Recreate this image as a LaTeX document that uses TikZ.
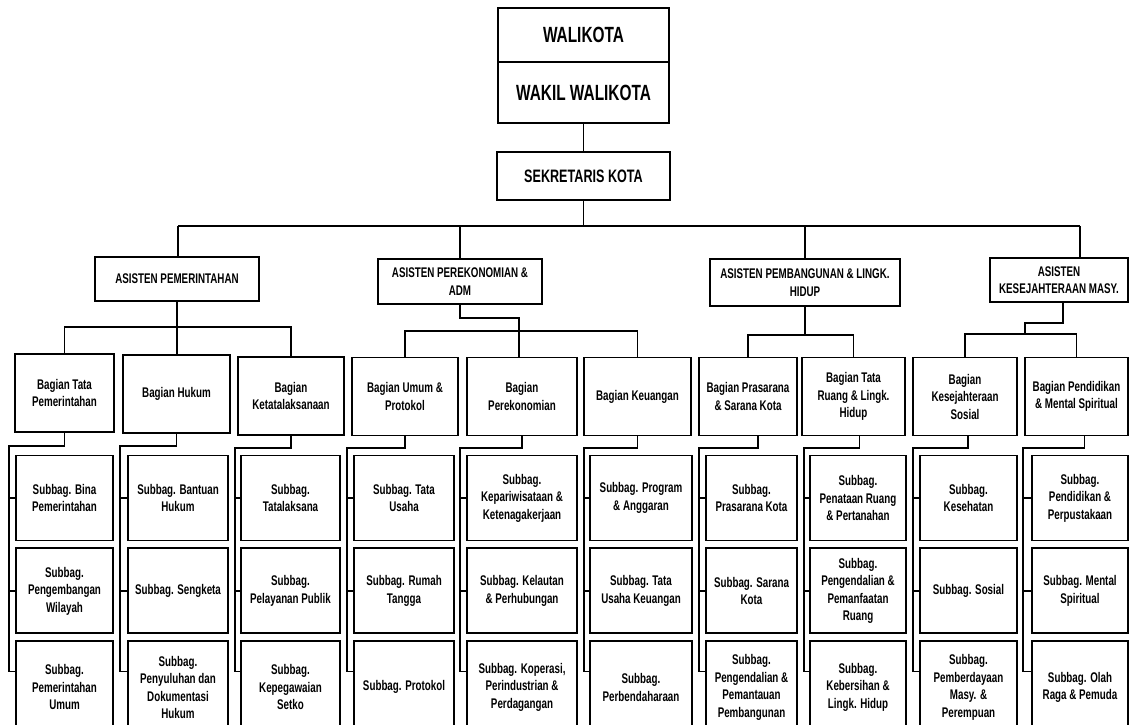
\documentclass[tikz,border=0pt]{standalone}
\usepackage{fontspec}
\setmainfont{Liberation Sans}[FakeStretch=0.7]
\usetikzlibrary{positioning}

\begin{document}
\begin{tikzpicture}[
    x=1pt, y=-1pt,
    node distance=6pt and 6pt,
    box/.style={
        draw,
        line width=1.9pt,
        align=center,
        inner sep=2pt,
        fill=white,
        font=\fontsize{14}{17.5}\selectfont\bfseries
    },
    headbox/.style={
        box,
        outer sep=0pt,
        minimum width=171pt,
        font=\fontsize{22}{26}\selectfont\bfseries
    },
    asisten/.style={box, minimum height=45pt},
    bagian/.style={box, minimum width=#1, minimum height=78pt},
    subbag/.style={box, minimum width=#1, minimum height=85pt},
    lastsub/.style={box, minimum width=#1, minimum height=92pt},
    link/.style={line width=1.6pt}
]
\useasboundingbox (0,0) rectangle (1129,724);

\node[headbox, minimum height=54pt] (wali) at (583.5,35) {WALIKOTA};
\node[headbox, minimum height=61pt, below=0pt of wali] (wakil) {WAKIL WALIKOTA};
\node[headbox, minimum width=173pt, minimum height=48pt, font=\fontsize{18}{22}\selectfont\bfseries] (sek) at (583.5,176) {SEKRETARIS KOTA};

\coordinate (busL) at (178,226);
\coordinate (busR) at (1080,226);

\node[asisten, minimum width=164pt, minimum height=44pt] (a1) at (177,279) {ASISTEN PEMERINTAHAN};
\node[asisten, minimum width=164pt] (a2) at (460,281.5) {ASISTEN PEREKONOMIAN \&\\ADM};
\node[asisten, minimum width=190pt, minimum height=47pt] (a3) at (805,282.5) {ASISTEN PEMBANGUNAN \& LINGK.\\HIDUP};
\node[asisten, minimum width=138pt, minimum height=44pt] (a4) at (1059,280) {ASISTEN\\KESEJAHTERAAN MASY.};

\node[bagian=99pt] (b1) at (64.5,393) {Bagian Tata\\Pemerintahan};
\node[bagian=107pt] (b2) at (176.5,394) {Bagian Hukum};
\node[bagian=106pt] (b3) at (291,396) {Bagian\\Ketatalaksanaan};
\node[bagian=106pt] (b4) at (405,396.5) {Bagian Umum \&\\Protokol};
\node[bagian=110pt] (b5) at (522,396.5) {Bagian\\Perekonomian};
\node[bagian=107pt] (b6) at (637.5,396.5) {Bagian Keuangan};
\node[bagian=98pt] (b7) at (748,396.5) {Bagian Prasarana\\\& Sarana Kota};
\node[bagian=103pt] (b8) at (853.5,396.5) {Bagian Tata\\Ruang \& Lingk.\\Hidup};
\node[bagian=104pt] (b9) at (965,396.5) {Bagian\\Kesejahteraan\\Sosial};
\node[bagian=103pt] (b10) at (1076.5,396.5) {Bagian Pendidikan\\\& Mental Spiritual};

\node[subbag=97pt] (s11) at (64.5,498) {Subbag. Bina\\Pemerintahan};
\node[subbag=97pt, below=of s11] (s12) {Subbag.\\Pengembangan\\Wilayah};
\node[lastsub=97pt, below=of s12] (s13) {Subbag.\\Pemerintahan\\Umum};

\node[subbag=100pt] (s21) at (178,498) {Subbag. Bantuan\\Hukum};
\node[subbag=100pt, below=of s21] (s22) {Subbag. Sengketa};
\node[lastsub=100pt, below=of s22] (s23) {Subbag.\\Penyuluhan dan\\Dokumentasi\\Hukum};

\node[subbag=99pt] (s31) at (290.5,498) {Subbag.\\Tatalaksana};
\node[subbag=99pt, below=of s31] (s32) {Subbag.\\Pelayanan Publik};
\node[lastsub=99pt, below=of s32] (s33) {Subbag.\\Kepegawaian\\Setko};

\node[subbag=100pt] (s41) at (404,498) {Subbag. Tata\\Usaha};
\node[subbag=100pt, below=of s41] (s42) {Subbag. Rumah\\Tangga};
\node[lastsub=100pt, below=of s42] (s43) {Subbag. Protokol};

\node[subbag=110pt] (s51) at (522,498) {Subbag.\\Kepariwisataan \&\\Ketenagakerjaan};
\node[subbag=110pt, below=of s51] (s52) {Subbag. Kelautan\\\& Perhubungan};
\node[lastsub=110pt, below=of s52] (s53) {Subbag. Koperasi,\\Perindustrian \&\\Perdagangan};

\node[subbag=102pt] (s61) at (641,498) {Subbag. Program\\\& Anggaran};
\node[subbag=102pt, below=of s61] (s62) {Subbag. Tata\\Usaha Keuangan};
\node[lastsub=102pt, below=of s62] (s63) {Subbag.\\Perbendaharaan};

\node[subbag=91pt] (s71) at (751.5,498) {Subbag.\\Prasarana Kota};
\node[subbag=91pt, below=of s71] (s72) {Subbag. Sarana\\Kota};
\node[lastsub=91pt, below=of s72] (s73) {Subbag.\\Pengendalian \&\\Pemantauan\\Pembangunan};

\node[subbag=96pt] (s81) at (858,498) {Subbag.\\Penataan Ruang\\\& Pertanahan};
\node[subbag=96pt, below=of s81] (s82) {Subbag.\\Pengendalian \&\\Pemanfaatan\\Ruang};
\node[lastsub=96pt, below=of s82] (s83) {Subbag.\\Kebersihan \&\\Lingk. Hidup};

\node[subbag=97pt] (s91) at (968.5,498) {Subbag.\\Kesehatan};
\node[subbag=97pt, below=of s91] (s92) {Subbag. Sosial};
\node[lastsub=97pt, below=of s92] (s93) {Subbag.\\Pemberdayaan\\Masy. \&\\Perempuan};

\node[subbag=96pt] (s101) at (1080,498) {Subbag.\\Pendidikan \&\\Perpustakaan};
\node[subbag=96pt, below=of s101] (s102) {Subbag. Mental\\Spiritual};
\node[lastsub=96pt, below=of s102] (s103) {Subbag. Olah\\Raga \& Pemuda};

\draw[link] (wakil) -- (sek);
\draw[link] (sek) -- (sek |- busL);
\draw[link] (busL) -- (busR);
\draw[link] (busL) -- (busL |- a1.north);
\draw[link] (a2.north) -- (a2.north |- busL);
\draw[link] (a3.north) -- (a3.north |- busL);
\draw[link] (busR) -- (busR |- a4.north);

\coordinate (j1) at (177,327);
\draw[link] (a1) -- (j1);
\draw[link] (b1.north) |- (j1) -| (b3.north);
\draw[link] (j1) -- (j1 |- b2.north);

\coordinate (j2) at (519,331);
\draw[link] (a2.south) -- ++(0,13) -| (j2);
\draw[link] (b4.north) |- (j2) -| (b6.north);
\draw[link] (j2) -- (j2 |- b5.north);

\coordinate (j3) at (805,335);
\draw[link] (a3) -- (j3);
\draw[link] (b7.north) |- (j3) -| (b8.north);

\coordinate (j4) at (1025,334);
\draw[link] ([xshift=4pt]a4.south) -- ++(0,20) -| (j4);
\draw[link] (b9.north) |- (j4) -| (b10.north);

\coordinate (t1) at (9,446);
\draw[link] (b1.south) |- (t1) |- ([yshift=16pt]s13.west);
\draw[link] (s11.west -| t1) -- (s11.west);
\draw[link] (s12.west -| t1) -- (s12.west);

\coordinate (t2) at (120,446);
\draw[link] (b2.south) |- (t2) |- ([yshift=16pt]s23.west);
\draw[link] (s21.west -| t2) -- (s21.west);
\draw[link] (s22.west -| t2) -- (s22.west);

\coordinate (t3) at (235,448);
\draw[link] (b3.south) |- (t3) |- ([yshift=16pt]s33.west);
\draw[link] (s31.west -| t3) -- (s31.west);
\draw[link] (s32.west -| t3) -- (s32.west);

\coordinate (t4) at (347,448);
\draw[link] (b4.south) |- (t4) |- ([yshift=16pt]s43.west);
\draw[link] (s41.west -| t4) -- (s41.west);
\draw[link] (s42.west -| t4) -- (s42.west);

\coordinate (t5) at (460,448);
\draw[link] (b5.south) |- (t5) |- ([yshift=16pt]s53.west);
\draw[link] (s51.west -| t5) -- (s51.west);
\draw[link] (s52.west -| t5) -- (s52.west);

\coordinate (t6) at (584,448);
\draw[link] (b6.south) |- (t6) |- ([yshift=16pt]s63.west);
\draw[link] (s61.west -| t6) -- (s61.west);
\draw[link] (s62.west -| t6) -- (s62.west);

\coordinate (t7) at (699,448);
\draw[link] ([xshift=10pt]b7.south) |- (t7) |- ([yshift=16pt]s73.west);
\draw[link] (s71.west -| t7) -- (s71.west);
\draw[link] (s72.west -| t7) -- (s72.west);

\coordinate (t8) at (804,448);
\draw[link] ([xshift=6pt]b8.south) |- (t8) |- ([yshift=16pt]s83.west);
\draw[link] (s81.west -| t8) -- (s81.west);
\draw[link] (s82.west -| t8) -- (s82.west);

\coordinate (t9) at (913,448);
\draw[link] ([xshift=3pt]b9.south) |- (t9) |- ([yshift=16pt]s93.west);
\draw[link] (s91.west -| t9) -- (s91.west);
\draw[link] (s92.west -| t9) -- (s92.west);

\coordinate (t10) at (1023,448);
\draw[link] ([xshift=8pt]b10.south) |- (t10) |- ([yshift=16pt]s103.west);
\draw[link] (s101.west -| t10) -- (s101.west);
\draw[link] (s102.west -| t10) -- (s102.west);
\end{tikzpicture}
\end{document}
